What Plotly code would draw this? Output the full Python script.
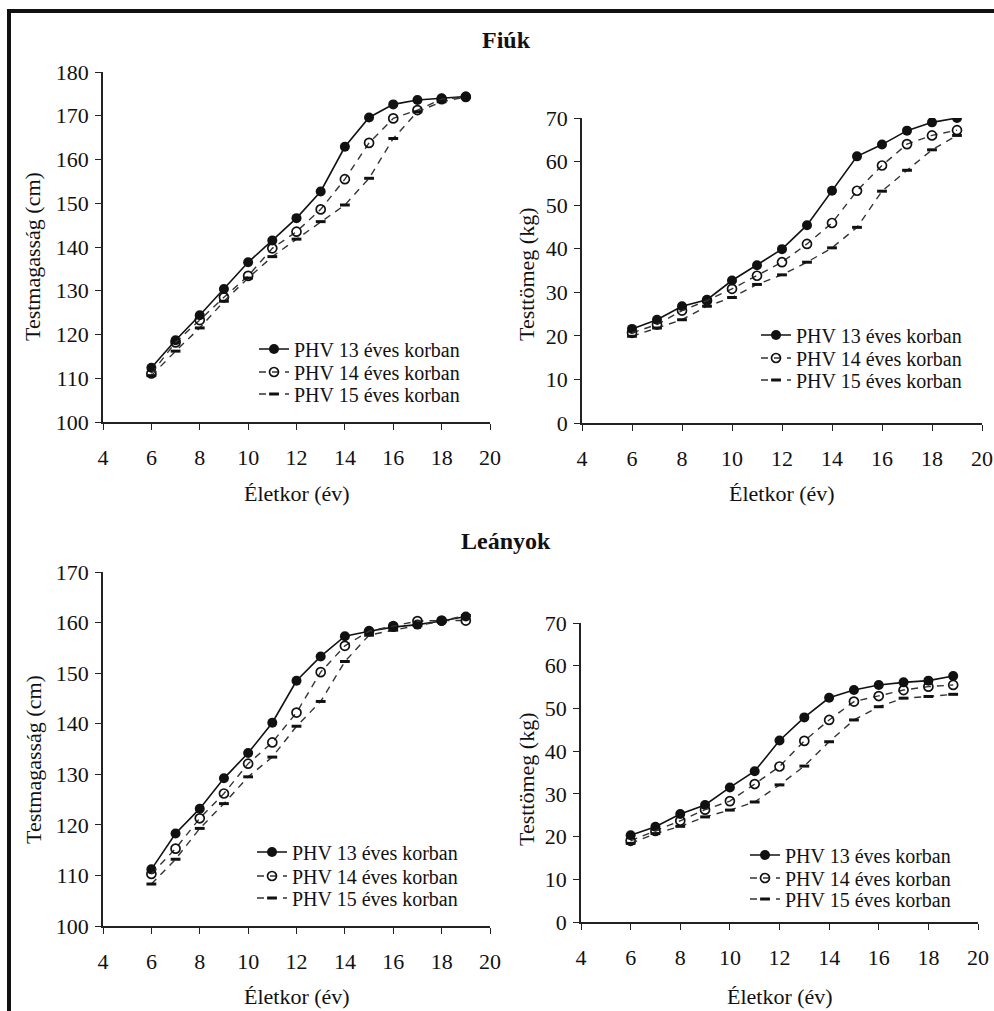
import plotly.graph_objects as go

# ---------------- data ----------------
ages = [6, 7, 8, 9, 10, 11, 12, 13, 14, 15, 16, 17, 18, 19]
series_names = ["PHV 13 éves korban", "PHV 14 éves korban", "PHV 15 éves korban"]

boys_height_13 = [112.4, 118.7, 124.4, 130.4, 136.5, 141.5, 146.6, 152.7, 162.9, 169.6, 172.6, 173.6, 174.0, 174.4]
boys_height_14 = [111.1, 118.2, 123.3, 128.5, 133.4, 139.7, 143.5, 148.6, 155.5, 163.8, 169.4, 171.3, 173.8, 174.3]
boys_height_15 = [110.6, 116.2, 121.5, 127.6, 132.9, 137.8, 141.8, 145.8, 149.6, 155.7, 164.8, 170.9, 173.2, 174.3]

boys_weight_13 = [21.6, 23.7, 26.8, 28.3, 32.7, 36.2, 39.9, 45.4, 53.3, 61.2, 63.9, 67.1, 69.0, 70.0]
boys_weight_14 = [20.7, 22.6, 25.8, 28.1, 30.8, 33.8, 36.9, 41.1, 45.9, 53.3, 59.1, 64.0, 66.0, 67.2]
boys_weight_15 = [19.9, 21.8, 23.7, 26.8, 28.8, 31.8, 34.0, 36.9, 40.2, 44.9, 53.2, 58.0, 62.7, 66.0]

girls_height_13 = [111.2, 118.3, 123.2, 129.2, 134.2, 140.2, 148.5, 153.3, 157.3, 158.3, 159.1, 159.6, 160.3, 161.2]
girls_height_14 = [110.3, 115.3, 121.3, 126.2, 132.1, 136.3, 142.2, 150.2, 155.4, 158.3, 159.3, 160.3, 160.4, 160.4]
girls_height_15 = [108.3, 113.2, 119.3, 124.2, 129.5, 133.4, 139.5, 144.4, 152.3, 157.5, 158.5, 159.4, 160.3, 161.4]

girls_weight_13 = [20.3, 22.3, 25.3, 27.4, 31.5, 35.3, 42.5, 47.9, 52.5, 54.3, 55.5, 56.1, 56.5, 57.6]
girls_weight_14 = [19.0, 21.3, 23.7, 26.3, 28.3, 32.3, 36.4, 42.4, 47.3, 51.6, 52.9, 54.3, 55.1, 55.5]
girls_weight_15 = [18.4, 20.7, 22.4, 24.6, 26.2, 28.1, 32.1, 36.5, 42.2, 47.3, 50.4, 52.4, 52.8, 53.3]

x_ticks = [4, 6, 8, 10, 12, 14, 16, 18, 20]
height_ticks_boys = [100, 110, 120, 130, 140, 150, 160, 170, 180]
height_ticks_girls = [100, 110, 120, 130, 140, 150, 160, 170]
weight_ticks = [0, 10, 20, 30, 40, 50, 60, 70]

group_titles = ["Fiúk", "Leányok"]
x_title = "Életkor (év)"
y_title_height = "Testmagasság (cm)"
y_title_weight = "Testtömeg (kg)"

# ---------------- layout helpers ----------------
W, H = 994, 1011
FONT = "Liberation Serif"
TXT = "#111"


def px(x):
    return x / W


def py(y):
    return 1 - y / H


styles = [
    dict(mode="lines+markers", line=dict(color="#111", width=1.6, dash="solid"),
         marker=dict(symbol="circle", size=10, color="#111")),
    dict(mode="lines+markers", line=dict(color="#333", width=1.4, dash="7px,6px"),
         marker=dict(symbol="circle-open", size=9, color="#111", line=dict(width=1.7))),
    dict(mode="lines+markers", line=dict(color="#333", width=1.4, dash="7px,6px"),
         marker=dict(symbol="line-ew", size=7, color="#111", line=dict(width=3, color="#111"))),
]

panels = [
    dict(data=[boys_height_13, boys_height_14, boys_height_15], xd=(103, 490), yd=(72, 422),
         yr=(100, 180), yt=height_ticks_boys, ytitle=y_title_height, ytpos=(33, 257),
         xtpos=(297, 494), legx=295, legy=[349, 372, 394]),
    dict(data=[boys_weight_13, boys_weight_14, boys_weight_15], xd=(582, 982), yd=(118, 423),
         yr=(0, 70), yt=weight_ticks, ytitle=y_title_weight, ytpos=(526, 275),
         xtpos=(782, 494), legx=797, legy=[335, 358, 380]),
    dict(data=[girls_height_13, girls_height_14, girls_height_15], xd=(103, 490), yd=(572, 926),
         yr=(100, 170), yt=height_ticks_girls, ytitle=y_title_height, ytpos=(33, 760),
         xtpos=(297, 996), legx=293, legy=[852, 876, 898]),
    dict(data=[girls_weight_13, girls_weight_14, girls_weight_15], xd=(581, 978), yd=(623, 922),
         yr=(0, 70), yt=weight_ticks, ytitle=y_title_weight, ytpos=(526, 780),
         xtpos=(780, 996), legx=786, legy=[855, 878, 899]),
]

LEG_TEXT_OFFSET = 41  # distance from legend box left edge to legend text

fig = go.Figure()
annotations = []
layout_extra = {}
k = 0
for i, p in enumerate(panels):
    n = i + 1
    xa = "x" if n == 1 else f"x{n}"
    ya = "y" if n == 1 else f"y{n}"
    for s, (vals, name) in enumerate(zip(p["data"], series_names)):
        lg = "legend" if k == 0 else f"legend{k + 1}"
        fig.add_trace(go.Scatter(x=ages, y=vals, name=name, xaxis=xa, yaxis=ya,
                                 legend=lg, showlegend=True, **styles[s]))
        layout_extra[lg] = dict(x=px(p["legx"] - LEG_TEXT_OFFSET), y=py(p["legy"][s]),
                                xanchor="left", yanchor="middle",
                                bgcolor="rgba(0,0,0,0)", borderwidth=0,
                                font=dict(family=FONT, size=20, color=TXT))
        k += 1
    axis_common = dict(showline=True, linecolor="#222", linewidth=1.6, ticks="outside",
                       ticklen=6, tickwidth=1.4, tickcolor="#222", showgrid=False,
                       zeroline=False, mirror=False, automargin=False,
                       tickfont=dict(family=FONT, size=22, color=TXT))
    layout_extra["xaxis" if n == 1 else f"xaxis{n}"] = dict(
        domain=[px(p["xd"][0]), px(p["xd"][1])], range=[4, 20], tickvals=x_ticks,
        anchor=ya, ticklabelstandoff=9, **axis_common)
    layout_extra["yaxis" if n == 1 else f"yaxis{n}"] = dict(
        domain=[py(p["yd"][1]), py(p["yd"][0])], range=list(p["yr"]), tickvals=p["yt"],
        anchor=xa, ticklabelstandoff=2, **axis_common)
    annotations.append(dict(text=p["ytitle"], x=px(p["ytpos"][0]), y=py(p["ytpos"][1]),
                            xref="paper", yref="paper", showarrow=False, textangle=-90,
                            xanchor="center", yanchor="middle",
                            font=dict(family=FONT, size=22, color=TXT)))
    annotations.append(dict(text=x_title, x=px(p["xtpos"][0]), y=py(p["xtpos"][1]),
                            xref="paper", yref="paper", showarrow=False,
                            xanchor="center", yanchor="middle",
                            font=dict(family=FONT, size=22, color=TXT)))

for title, ty in zip(group_titles, [40, 541]):
    annotations.append(dict(text="<b>" + title + "</b>", x=px(506), y=py(ty),
                            xref="paper", yref="paper", showarrow=False,
                            xanchor="center", yanchor="middle",
                            font=dict(family=FONT, size=24, color=TXT)))

shapes = [
    dict(type="line", xref="paper", yref="paper", x0=px(7), x1=1, y0=py(11), y1=py(11),
         line=dict(color="#111", width=4)),
    dict(type="line", xref="paper", yref="paper", x0=px(9), x1=px(9), y0=py(9), y1=0,
         line=dict(color="#111", width=4)),
]

fig.update_layout(
    width=W, height=H,
    margin=dict(l=0, r=0, t=0, b=0, pad=0, autoexpand=False),
    showlegend=True,
    paper_bgcolor="white", plot_bgcolor="white",
    font=dict(family=FONT, color=TXT),
    annotations=annotations, shapes=shapes,
    **layout_extra,
)

fig.write_html("out.html", config={"displayModeBar": False},
               post_script="document.body.style.margin='0';document.body.style.overflow='hidden';")
